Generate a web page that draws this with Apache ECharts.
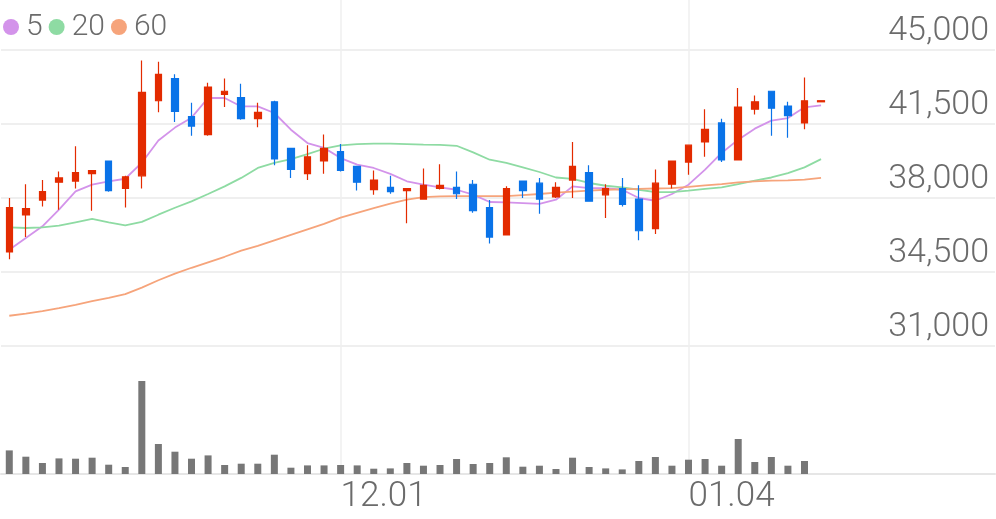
<!DOCTYPE html>
<html><head><meta charset="utf-8">
<script src="https://cdn.jsdelivr.net/npm/echarts@6/dist/echarts.min.js"></script>
<style>html,body{margin:0;padding:0;background:#fff}#c{width:996px;height:519px}</style>
</head><body><div id="c"></div>
<script>
const dates = ['11.03','11.06','11.07','11.08','11.09','11.10','11.13','11.14','11.15','11.16',
  '11.17','11.20','11.21','11.22','11.23','11.24','11.27','11.28','11.29','11.30',
  '12.01','12.04','12.05','12.06','12.07','12.08','12.11','12.12','12.13','12.14',
  '12.15','12.18','12.19','12.20','12.21','12.22','12.26','12.27','12.28','01.02',
  '01.03','01.04','01.05','01.08','01.09','01.10','01.11','01.12','01.15','01.16',
  '01.17','01.18','01.19','01.22','01.23','01.24','01.25','01.26','01.29','01.30'];
const openP  = [35450,37200,37900,38750,38800,39150,39750,38450,39050,42600,
  43650,41850,41000,42900,42750,41750,42550,40350,39150,39750,
  40200,39500,38400,38500,38350,37950,38450,38500,38650,37550,
  36250,38800,38700,38050,38850,39200,38150,38450,37950,36550,
  38650,39700,40650,41550,39800,42200,43050,42350,41550,42550];
const closeP = [37550,37500,38300,38950,39200,39300,38350,39000,43000,43850,
  42100,41400,43250,43050,41750,42050,39850,39350,39950,40350,
  39300,38750,38850,38300,38450,38600,38600,38200,37400,36150,
  38450,38350,37950,38500,39500,37850,38450,37700,36450,38700,
  39750,40500,41250,39800,42300,42550,42250,41900,42600,42600];
const lowP   = [35100,36150,37600,37450,38450,37400,38300,37550,38450,42050,
  41600,40950,40950,42300,41700,41350,39550,38950,38850,39150,
  39250,38350,38150,38200,36800,37950,38400,37950,37300,35850,
  36250,38000,37250,38000,38000,37850,37050,37600,36000,36300,
  38450,39100,39950,39700,39800,41950,40950,40850,41250,42550];
const highP  = [38000,38650,38850,39250,40450,39300,39750,39050,44500,44450,
  43850,42500,43450,43650,43400,42500,42600,40350,40500,41000,
  40550,39500,39300,39050,38450,39400,39600,39250,38850,37900,
  38550,38800,38950,38750,40650,39550,38650,38950,38600,39350,
  39750,40500,42200,41750,43200,42850,43050,42550,43700,42600];
const volume = [236000,173000,110000,156000,153000,163000,93000,70000,930000,300000,
  223000,153000,186000,90000,103000,103000,193000,63000,86000,86000,
  90000,86000,53000,56000,110000,83000,90000,150000,100000,110000,
  167000,73000,83000,50000,163000,70000,56000,46000,130000,170000,
  83000,143000,150000,83000,350000,120000,170000,83000,130000,0];
const ma5  = [35550,36110,36660,37450,38310,38630,38790,38910,39670,40720,
  41330,41800,42730,42730,42330,42330,42020,41230,40600,40370,
  39890,39580,39420,39140,38790,38630,38500,38390,38160,37810,
  37790,37760,37720,37920,38550,38470,38470,38390,38000,37870,
  38190,38630,39340,40130,40760,41280,41660,41780,42290,42380];
const ma20 = [36610,36580,36610,36690,36850,37010,36850,36700,36870,37210,
  37540,37840,38190,38550,38950,39420,39660,39840,40080,40330,
  40490,40550,40570,40570,40550,40520,40510,40470,40160,39810,
  39660,39450,39230,38970,38900,38710,38580,38500,38390,38280,
  38280,38350,38430,38500,38660,38820,38970,39180,39450,39840];
const ma60 = [32430,32530,32650,32790,32950,33120,33280,33450,33760,34110,
  34420,34700,34960,35220,35510,35740,36000,36260,36520,36780,
  37070,37300,37520,37730,37920,38040,38080,38090,38090,38090,
  38090,38140,38190,38250,38300,38350,38390,38410,38430,38450,
  38470,38530,38600,38660,38740,38790,38820,38830,38870,38950];
const xTickLabels = ['12.01','01.04'];
const yTicks = [31000,34500,38000,41500,45000];
const maNames = ['5','20','60'];
const maColors = ['#d393ea','#8edba3','#f6a47b'];

const candles = openP.map((o,i)=>[o, closeP[i], lowP[i], highP[i]]);
const FONT = 'Roboto';
const TXT = '#6b6b6b';
const showTick = (idx, val) => xTickLabels.indexOf(val) >= 0;

const chart = echarts.init(document.getElementById('c'));
chart.setOption({
  animation: false,
  backgroundColor: '#fff',
  legend: {
    data: maNames, left: 3, top: 12, padding: 0, icon: 'circle', itemWidth: 16, itemHeight: 16, itemGap: 6,
    textStyle: {fontSize: 30, color: TXT, fontFamily: FONT, fontWeight: 300, padding: [0,0,0,2]}
  },
  grid: [
    {left: 1, right: 1, top: 50, height: 296},
    {left: 1, right: 1, top: 381, height: 93},
    {left: 9.28, right: 9.28, top: 0, height: 474}
  ],
  xAxis: [
    {type: 'category', gridIndex: 0, data: dates, boundaryGap: true,
     axisLine: {show: false}, axisTick: {show: false}, axisLabel: {show: false}, splitLine: {show: false}},
    {type: 'category', gridIndex: 1, data: dates, boundaryGap: true,
     axisLine: {show: true, lineStyle: {color: '#e6e6e6', width: 2}}, axisTick: {show: false},
     axisLabel: {show: false}, splitLine: {show: false}},
    {type: 'category', gridIndex: 2, data: dates, boundaryGap: false,
     axisLine: {show: false}, axisTick: {show: false},
     axisLabel: {show: true, interval: showTick, align: 'left', margin: 6, fontSize: 35,
       color: TXT, fontFamily: FONT, fontWeight: 300},
     splitLine: {show: true, interval: showTick, lineStyle: {color: '#efefef', width: 1.5}}}
  ],
  yAxis: [
    {type: 'value', gridIndex: 0, position: 'right', min: yTicks[0], max: yTicks[yTicks.length-1],
     interval: yTicks[1]-yTicks[0],
     axisLine: {show: false}, axisTick: {show: false},
     splitLine: {show: true, lineStyle: {color: '#efefef', width: 2}},
     axisLabel: {inside: true, margin: 6, fontSize: 34, color: TXT, fontFamily: FONT, fontWeight: 300,
       verticalAlign: 'bottom', lineHeight: 38,
       formatter: v => v.toLocaleString('en-US')}},
    {type: 'value', gridIndex: 1, min: 0, max: 930000, show: false, splitLine: {show: false}},
    {type: 'value', gridIndex: 2, show: false, splitLine: {show: false}}
  ],
  series: [
    {name: maNames[0], type: 'line', data: ma5, xAxisIndex: 0, yAxisIndex: 0, symbol: 'none', z: 2,
     lineStyle: {color: maColors[0], width: 1.8}, itemStyle: {color: maColors[0]}},
    {name: maNames[1], type: 'line', data: ma20, xAxisIndex: 0, yAxisIndex: 0, symbol: 'none', z: 2,
     lineStyle: {color: maColors[1], width: 1.8}, itemStyle: {color: maColors[1]}},
    {name: maNames[2], type: 'line', data: ma60, xAxisIndex: 0, yAxisIndex: 0, symbol: 'none', z: 2,
     lineStyle: {color: maColors[2], width: 1.8}, itemStyle: {color: maColors[2]}},
    {type: 'candlestick', data: candles, xAxisIndex: 0, yAxisIndex: 0, barWidth: 7, z: 5,
     itemStyle: {color: '#e32b00', color0: '#0a73e8', borderColor: '#e32b00', borderColor0: '#0a73e8', borderWidth: 1.2}},
    {type: 'bar', data: volume, xAxisIndex: 1, yAxisIndex: 1, barWidth: 7,
     itemStyle: {color: '#777777'}}
  ]
});
</script></body></html>
